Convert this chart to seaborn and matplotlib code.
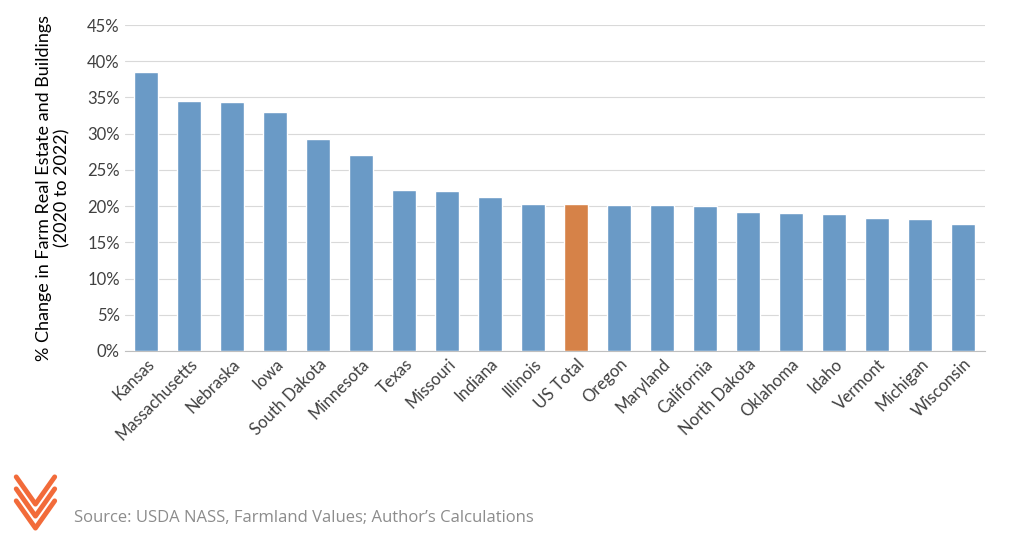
import pandas as pd
import seaborn as sns
import matplotlib.pyplot as plt
from matplotlib.ticker import PercentFormatter, MultipleLocator

states = ["Kansas", "Massachusetts", "Nebraska", "Iowa", "South Dakota", "Minnesota",
          "Texas", "Missouri", "Indiana", "Illinois", "US Total", "Oregon", "Maryland",
          "California", "North Dakota", "Oklahoma", "Idaho", "Vermont", "Michigan", "Wisconsin"]
pct_change = [38.5, 34.5, 34.4, 33.0, 29.3, 27.1, 22.2, 22.1, 21.3, 20.3, 20.3, 20.2,
              20.1, 20.0, 19.2, 19.0, 18.9, 18.3, 18.2, 17.5]

df = pd.DataFrame({"state": states, "pct": pct_change})

sns.set_style("white")
plt.rcParams['font.family'] = ['Lato', 'DejaVu Sans']

fig = plt.figure(figsize=(10.13, 5.45), dpi=100)
ax = fig.add_axes([0.123, 0.356, 0.849, 0.598])

palette = {s: ("#ED7D31" if s == "US Total" else "#5B9BD5") for s in states}
sns.barplot(data=df, x="state", y="pct", hue="state", palette=palette,
            legend=False, width=0.55, ax=ax, zorder=3)

ax.set_ylim(0, 45)
ax.yaxis.set_major_locator(MultipleLocator(5))
ax.yaxis.set_major_formatter(PercentFormatter(decimals=0))
ax.grid(axis="y", color="#D9D9D9", linewidth=0.8, zorder=0)
for sp in ["top", "right", "left"]:
    ax.spines[sp].set_visible(False)
ax.spines["bottom"].set_color("#BFBFBF")
ax.tick_params(axis="both", length=0, labelsize=12, colors="#404040")
plt.setp(ax.get_xticklabels(), rotation=45, ha="right", rotation_mode="anchor")
ax.set_xlabel("")
ax.set_ylabel("% Change in Farm Real Estate and Buildings\n(2020 to 2022)",
              fontsize=13, color="black", labelpad=12)

# logo chevrons
for dy in [0.0, 0.022, 0.044]:
    fig.lines.append(plt.Line2D([0.016, 0.035, 0.054], [0.095 - dy + 0.03, 0.045 - dy + 0.03, 0.095 - dy + 0.03],
                                transform=fig.transFigure, color="#F26B3A", linewidth=3.5))
fig.text(0.073, 0.05, "Source: USDA NASS, Farmland Values; Author\u2019s Calculations",
         fontsize=12, color="#8C8C8C", family=["Open Sans", "DejaVu Sans"], va="center")

fig.savefig("out.png", dpi=100)
